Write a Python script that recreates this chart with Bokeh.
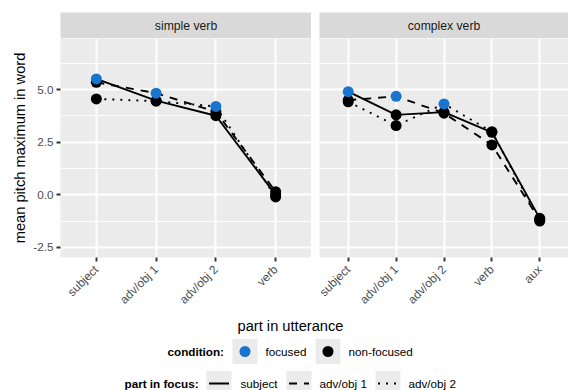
import math
from bokeh.plotting import figure
from bokeh.layouts import row, column
from bokeh.models import FactorRange, Range1d, FixedTicker, NumeralTickFormatter
from bokeh.core.properties import value
from bokeh.embed import file_html
from bokeh.resources import INLINE

# ---------------- data ----------------
parts_simple = ["subject", "adv/obj 1", "adv/obj 2", "verb"]
parts_complex = ["subject", "adv/obj 1", "adv/obj 2", "verb", "aux"]
focus_parts = ["subject", "adv/obj 1", "adv/obj 2"]
focus_dash = ["solid", "8 7", "2 6"]

simple_focus_subject = [5.51, 4.48, 3.76, 0.00]
simple_focus_advobj1 = [5.35, 4.83, 3.95, 0.15]
simple_focus_advobj2 = [4.56, 4.45, 4.20, -0.10]

complex_focus_subject = [4.90, 3.80, 3.93, 2.97, -1.12]
complex_focus_advobj1 = [4.50, 4.68, 3.88, 2.37, -1.20]
complex_focus_advobj2 = [4.42, 3.29, 4.32, 3.00, -1.25]

y_ticks = [-2.5, 0.0, 2.5, 5.0]
y_minor = [-1.25, 1.25, 3.75, 6.25]
panel_titles = ["simple verb", "complex verb"]
condition_labels = ["focused", "non-focused"]

FONT = value("Liberation Sans")
BLUE = "#1874CD"
PANEL_BG = "#ebebeb"
PANEL_H = 277
LEG_TOP = 38 + PANEL_H


def make_strip(label, width, left):
    s = figure(width=width, height=38, x_range=Range1d(0, 1), y_range=Range1d(0, 1),
               min_border_left=left, min_border_right=0, min_border_top=12, min_border_bottom=0,
               x_axis_location=None, y_axis_location=None, background_fill_color="#d9d9d9",
               border_fill_color="white", outline_line_color=None,
               toolbar_location=None, output_backend="svg")
    s.xgrid.grid_line_color = None
    s.ygrid.grid_line_color = None
    s.text(x=[0.5], y=[0.5], text=[label], text_align="center", text_baseline="middle",
           text_font=FONT, text_font_size="12.2px", text_color="#1a1a1a")
    return s


def make_panel(parts, series, width, left, show_y):
    p = figure(x_range=FactorRange(factors=parts, range_padding=0.1, range_padding_units="absolute"),
               y_range=Range1d(-2.98, 7.43), width=width, height=PANEL_H,
               min_border_left=left, min_border_right=0, min_border_top=0, min_border_bottom=PANEL_H - 219,
               y_axis_location="left" if show_y else None,
               background_fill_color=PANEL_BG, border_fill_color="white", outline_line_color=None,
               toolbar_location=None, output_backend="svg")
    ticker = FixedTicker(ticks=y_ticks, minor_ticks=y_minor)
    p.ygrid.ticker = ticker
    p.ygrid.grid_line_color = "white"
    p.ygrid.grid_line_width = 1.9
    p.ygrid.minor_grid_line_color = "white"
    p.ygrid.minor_grid_line_width = 0.95
    p.xgrid.grid_line_color = "white"
    p.xgrid.grid_line_width = 1.9

    xa = p.xaxis
    xa.major_label_orientation = math.pi / 4
    xa.axis_line_color = None
    xa.major_tick_in = 0
    xa.major_tick_out = 4
    xa.major_tick_line_color = "#333333"
    xa.major_tick_line_width = 1.9
    xa.minor_tick_line_color = None
    xa.major_label_standoff = 6
    xa.major_label_text_font = "Liberation Sans"
    xa.major_label_text_font_size = "11.9px"
    xa.major_label_text_color = "#4d4d4d"

    if show_y:
        ya = p.yaxis
        ya.ticker = ticker
        ya.formatter = NumeralTickFormatter(format="0.0")
        ya.axis_line_color = None
        ya.major_tick_in = 0
        ya.major_tick_out = 4
        ya.major_tick_line_color = "#333333"
        ya.major_tick_line_width = 1.9
        ya.minor_tick_line_color = None
        ya.major_label_standoff = 3
        ya.major_label_text_font = "Liberation Sans"
        ya.major_label_text_font_size = "11.7px"
        ya.major_label_text_color = "#4d4d4d"
        ya.axis_label = "mean pitch maximum in word"
        ya.axis_label_text_font = "Liberation Sans"
        ya.axis_label_text_font_size = "14.67px"
        ya.axis_label_text_font_style = "normal"
        ya.axis_label_text_color = "black"
        ya.axis_label_standoff = 2

    bx, by, fx, fy = [], [], [], []
    for focus, dash, vals in zip(focus_parts, focus_dash, series):
        p.line(x=parts, y=vals, line_color="black", line_width=1.9, line_dash=dash)
        for part, v in zip(parts, vals):
            if part == focus:
                fx.append(part); fy.append(v)
            else:
                bx.append(part); by.append(v)
    p.scatter(x=bx, y=by, size=11, fill_color="black", line_color=None)
    p.scatter(x=fx, y=fy, size=11, fill_color=BLUE, line_color=None)
    return p


s1 = make_strip(panel_titles[0], 311, 60)
p1 = make_panel(parts_simple, [simple_focus_subject, simple_focus_advobj1, simple_focus_advobj2], 311, 60, True)
s2 = make_strip(panel_titles[1], 257, 8)
p2 = make_panel(parts_complex, [complex_focus_subject, complex_focus_advobj1, complex_focus_advobj2], 257, 8, False)

# ---------------- legend / x title area ----------------
leg = figure(width=568, height=390 - LEG_TOP, x_range=Range1d(0, 568), y_range=Range1d(390, LEG_TOP),
             min_border_left=0, min_border_right=0, min_border_top=0, min_border_bottom=0,
             x_axis_location=None, y_axis_location=None, outline_line_color=None,
             background_fill_color="white", border_fill_color="white",
             toolbar_location=None, output_backend="svg")
leg.xgrid.grid_line_color = None
leg.ygrid.grid_line_color = None

leg.text(x=[290], y=[325], text=["part in utterance"], text_align="center", text_baseline="middle",
         text_font=FONT, text_font_size="14.67px", text_color="black")

# row 1: condition
r1 = 351
leg.text(x=[167], y=[r1], text=["condition:"], text_align="left", text_baseline="middle",
         text_font=FONT, text_font_size="11.7px", text_font_style="bold", text_color="black")
key1 = [244.5, 327.5]
leg.rect(x=key1, y=[r1, r1], width=25, height=25, fill_color=PANEL_BG, line_color=None)
leg.scatter(x=[key1[0]], y=[r1], size=11, fill_color=BLUE, line_color=None)
leg.scatter(x=[key1[1]], y=[r1], size=11, fill_color="black", line_color=None)
leg.text(x=[265, 348], y=[r1, r1], text=condition_labels, text_align="left", text_baseline="middle",
         text_font=FONT, text_font_size="11.7px", text_color="black")

# row 2: part in focus
r2 = 383
leg.text(x=[124], y=[r2], text=["part in focus:"], text_align="left", text_baseline="middle",
         text_font=FONT, text_font_size="11.7px", text_font_style="bold", text_color="black")
key2 = [218.5, 298.5, 387.5]
leg.rect(x=key2, y=[r2] * 3, width=25, height=25, fill_color=PANEL_BG, line_color=None)
for cx, dash in zip(key2, focus_dash):
    leg.line(x=[cx - 10, cx + 10], y=[r2, r2], line_color="black", line_width=1.9, line_dash=dash)
leg.text(x=[240, 319, 408], y=[r2] * 3, text=focus_parts, text_align="left", text_baseline="middle",
         text_font=FONT, text_font_size="11.7px", text_color="black")

layout = column(row(column(s1, p1), column(s2, p2)), leg)
open("out.html", "w").write(file_html(layout, INLINE))
